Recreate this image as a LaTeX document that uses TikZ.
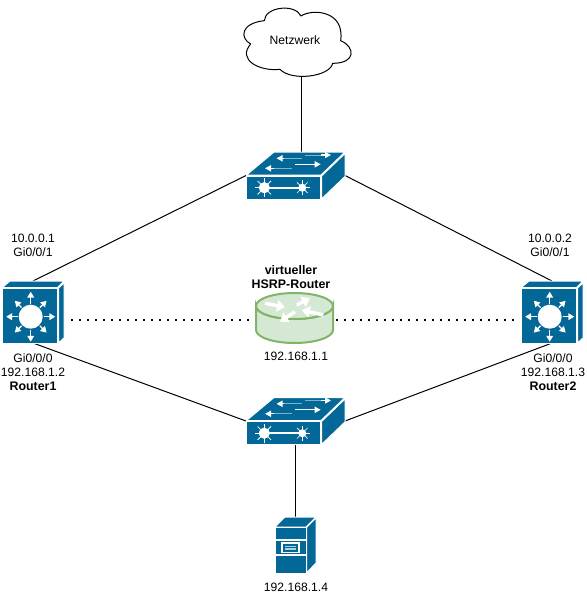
\documentclass[tikz,border=0pt]{standalone}
\usepackage{fontspec}
\setmainfont{Liberation Sans}
\usetikzlibrary{arrows.meta}
\definecolor{cisco}{HTML}{036897}
\definecolor{cylfill}{HTML}{D5E8D4}
\definecolor{cylline}{HTML}{82B366}
\definecolor{fade}{HTML}{7FB3CB}
\tikzset{
  x=0.75pt,y=-0.75pt,
  link/.style={draw=black,line width=0.75pt},
  dots/.style={draw=black,line width=1.4pt,dash pattern=on 1.4pt off 4.6pt},
  face/.style={fill=cisco,draw=white,line width=0.75pt,line join=round},
  wline/.style={draw=white,line width=0.9pt,-{Triangle[length=4.5pt,width=4.6pt]}},
  fline/.style={draw=fade,line width=0.7pt},
  warrow/.style={draw=white,line width=2.6pt,-{Triangle[length=6pt,width=8.5pt]}},
  hub/.style={inner sep=0pt,outer sep=0pt,minimum width=#1},
  lbl/.style={inner sep=0pt,outer sep=0pt,align=center,font=\fontsize{9.1pt}{10.5pt}\selectfont},
  blbl/.style={lbl,font=\fontsize{9.3pt}{10.5pt}\selectfont\bfseries},
}
\newcommand{\switchicon}[1]{%
\begin{scope}[shift={(#1)}]
  \path[face] (0.5,23) -- (28,0) -- (99,0) -- (75,23) -- cycle;
  \path[face] (0,24) rectangle (74.5,47);
  \path[face] (75.5,24) -- (99,1.5) -- (99,24.5) -- (75.5,47) -- cycle;
  \draw[fline] (55.5,6.3) -- (38,6.3);
  \draw[wline] (38,6.3) -- (30.5,6.3);
  \draw[fline] (59,3) -- (75,3);
  \draw[wline] (75,3) -- (85,3);
  \draw[fline] (45.5,16.3) -- (28,16.3);
  \draw[wline] (28,16.3) -- (19,16.3);
  \draw[wline] (49,12.3) -- (74.7,12.3);
  \draw[white,line width=1.5pt] (18.3,35.7) -- (56.3,35.7);
  \fill[white] (18.3,35.7) circle (5.6);
  \fill[white] (56.3,35.7) circle (4);
  \foreach \a in {0,45,...,315}{
    \draw[white,line width=0.6pt] (18.3,35.7) -- ++(\a:9.5);
    \draw[white,line width=0.5pt] (56.3,35.7) -- ++(\a:7.5);
  }
\end{scope}}
\newcommand{\routericon}[1]{%
\begin{scope}[shift={(#1)}]
  \path[face] (0.3,6.5) -- (8,0) -- (62,0) -- (55.5,6.5) -- cycle;
  \path[face] (0,7) rectangle (55.5,62);
  \path[face] (56.5,7) -- (62,2) -- (62,57) -- (56.5,62) -- cycle;
  \fill[white] (28.7,35.7) circle (12);
  \foreach \a/\r in {0/24.5,90/25,180/24.5,270/25,45/22.5,135/22.5,225/22.5,315/22.5}{
    \draw[white,line width=1pt,-{Triangle[length=4.4pt,width=5pt]}] (28.7,35.7) ++(\a:13) -- ++(\a:\r-13);
  }
\end{scope}}
\begin{document}
\begin{tikzpicture}
\useasboundingbox (0,0) rectangle (586,596);
% cloud
\node[hub=81.75pt,minimum height=51.75pt] (net) at (297.5,41.5) {};
\begin{scope}[shift={(230,0)},x=0.25pt,y=-0.25pt]
\draw[black,fill=white,line width=0.75pt,line join=round]
  (62,132) .. controls (30,115) and (30,70) .. (103,62)
  .. controls (105,20) and (195,10) .. (213,48)
  .. controls (245,26) and (345,30) .. (332,122)
  .. controls (375,140) and (380,190) .. (308,190)
  .. controls (300,230) and (185,245) .. (150,208)
  .. controls (90,215) and (20,180) .. (62,132) -- cycle;
\end{scope}
\node[lbl] (nettext) at (295,40) {Netzwerk};
% devices
\node[hub=74.25pt,minimum height=35.25pt] (sw1) at (295.5,175.5) {};
\node[hub=74.25pt,minimum height=35.25pt] (sw2) at (295.5,421) {};
\node[hub=46.5pt,minimum height=46.5pt] (r1) at (33,312) {};
\node[hub=46.5pt,minimum height=46.5pt] (r2) at (552,312) {};
\node[hub=30.75pt,minimum height=42pt] (srv) at (295.5,545) {};
\node[hub=57.75pt,minimum height=37.5pt] (hsrp) at (294.5,318) {};
\coordinate (cloudbot) at (301.5,76);
\coordinate (swtop) at (301.5,151.5);
\coordinate (dotA) at (71,320);
\coordinate (dotB) at (256,320);
\coordinate (dotC) at (336,320);
\coordinate (dotD) at (517,320);
% connectors
\draw[link] (cloudbot) -- (swtop);
\draw[link] (r1.north) -- (sw1.west);
\draw[link] (r2.north) -- (sw1.east);
\draw[link] (r1.south) -- (sw2.west);
\draw[link] (r2.south) -- (sw2.east);
\draw[link] (sw2.south) -- (srv.north);
\draw[dots] (dotA) -- (dotB);
\draw[dots] (dotC) -- (dotD);
% icons
\switchicon{246,152}
\switchicon{246,397.5}
\routericon{2,281}
\routericon{521,281}
% HSRP cylinder
\path[fill=cylfill,draw=cylline,line width=1.5pt] (256,306) -- (256,330)
  arc[start angle=180,end angle=360,x radius=38.5,y radius=-13] -- (333,306)
  arc[start angle=0,end angle=-180,x radius=38.5,y radius=-13] -- cycle;
\draw[cylline,fill=cylfill,line width=1.5pt] (294.5,306) ellipse [x radius=38.5,y radius=13];
\draw[warrow] (265,303.3) -- (285,307.3);
\draw[warrow] (296.7,305) -- (310,298.3);
\draw[warrow] (295,311.7) -- (280,321.7);
\draw[warrow] (323.3,315) -- (301.7,310);
% server
\path[face] (285,517) -- (316,517) -- (306,527) -- (275,527) -- cycle;
\path[face] (306.5,527.5) -- (316,518) -- (316,563) -- (306.5,573) -- cycle;
\path[face] (275,527.5) rectangle (306,539);
\path[face] (275,540.5) rectangle (306,554.5);
\path[face] (275,555.5) rectangle (306,573);
\draw[white,line width=0.9pt] (282,543) rectangle (299,552.5);
\fill[fade!60!white] (285,545.5) rectangle (296,550);
\draw[cisco,line width=0.4pt] (285,547.7) -- (296,547.7);
% texts
\node[lbl] (t1) at (33,245.5) {10.0.0.1\\Gi0/0/1};
\node[lbl] (t2) at (550,245.5) {10.0.0.2\\Gi0/0/1};
\node[lbl] (t3) at (33,365) {Gi0/0/0\\192.168.1.2};
\node[lbl] (t4) at (553,365) {Gi0/0/0\\192.168.1.3};
\node[blbl] (t5) at (33,386) {Router1};
\node[blbl] (t6) at (553,386) {Router2};
\node[blbl] (t7) at (291,277) {virtueller\\HSRP-Router};
\node[lbl] (t8) at (296,356.5) {192.168.1.1};
\node[lbl] (t9) at (296,587) {192.168.1.4};
\end{tikzpicture}
\end{document}
